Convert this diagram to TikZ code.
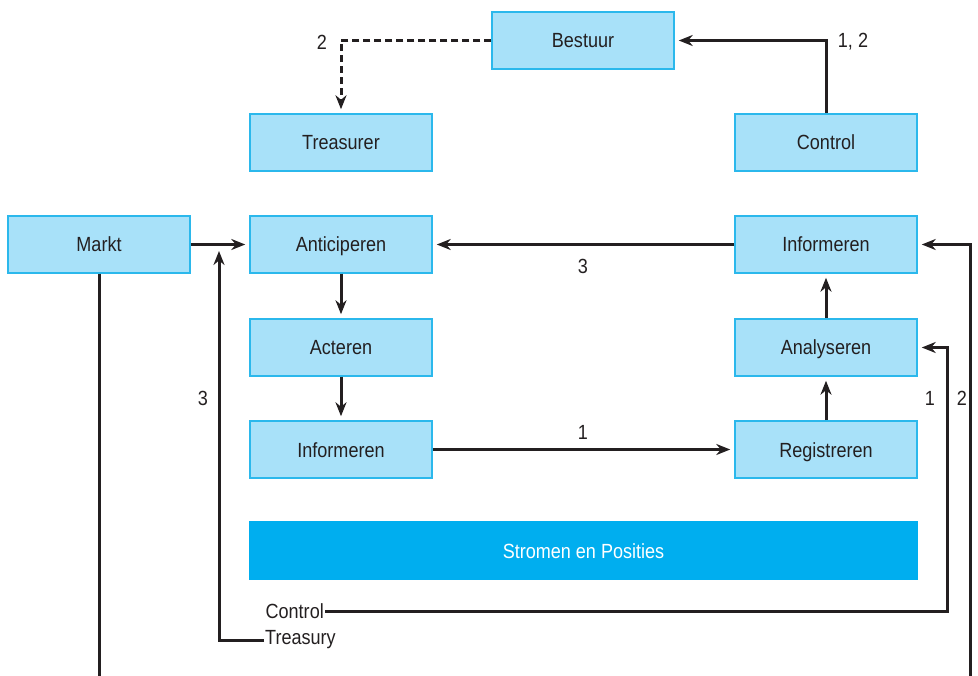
\documentclass[tikz,border=0pt]{standalone}
\usepackage{fontspec}
\setmainfont{Liberation Sans}[FakeStretch=0.88]
\usepackage{xcolor}
\usepackage{tikz}
\usetikzlibrary{positioning,arrows.meta}

\definecolor{ink}{HTML}{231F20}
\definecolor{boxfill}{HTML}{A8E1F9}
\definecolor{boxline}{HTML}{2BB8EC}
\definecolor{bandfill}{HTML}{00AEEF}

\tikzset{
  stap/.style={draw=boxline, fill=boxfill, line width=1.5pt, minimum width=182pt, minimum height=57pt, inner sep=0pt, text height=17pt, text depth=2pt, text=ink, font=\fontsize{20.5}{24}\selectfont},
  lbl/.style={text=ink, inner sep=1pt, font=\fontsize{20.5}{24}\selectfont},
  flow/.style={ink, line width=3pt, -{Stealth[length=14pt,width=11pt]}, shorten >=4pt},
  plain/.style={ink, line width=3pt}
}

\begin{document}
\begin{tikzpicture}[x=1pt,y=-1pt]
\useasboundingbox (0,0) rectangle (978,676);
% boxes
\node[stap] (bestuur) at (583,40.5) {Bestuur};
\node[stap] (treasurer) at (341,142.5) {Treasurer};
\node[stap] (control) at (826,142.5) {Control};
\node[stap] (markt) at (99,244.5) {Markt};
\node[stap] (anticiperen) at (341,244.5) {Anticiperen};
\node[stap] (informerenR) at (826,244.5) {Informeren};
\node[stap] (acteren) at (341,347.5) {Acteren};
\node[stap] (analyseren) at (826,347.5) {Analyseren};
\node[stap] (informerenL) at (341,449.5) {Informeren};
\node[stap] (registreren) at (826,449.5) {Registreren};
\node[stap, fill=bandfill, draw=bandfill, text=white, minimum width=667pt] (stromen) at (583.5,550.5) {Stromen en Posities};
% loose ends
\node[lbl, anchor=east] (ctrl) at (325,611) {Control};
\node[lbl, anchor=west] (treasury) at (264,640) {Treasury};
\coordinate (ctrlturn) at (947,347.5);
\coordinate (trjoin) at (219,251);
\coordinate (marktend) at (99,680);
\coordinate (rightend) at (970,680);
% connectors
\draw[flow, dashed, dash pattern=on 7pt off 4pt] (bestuur.west) -| (treasurer.north);
\draw[flow] (control.north) |- (bestuur.east);
\draw[flow] (markt.east) -- (anticiperen.west);
\draw[flow] (informerenR.west) -- (anticiperen.east);
\draw[flow] (anticiperen.south) -- (acteren.north);
\draw[flow] (acteren.south) -- (informerenL.north);
\draw[flow] (informerenL.east) -- (registreren.west);
\draw[flow] (registreren.north) -- (analyseren.south);
\draw[flow] (analyseren.north) -- (informerenR.south);
\draw[flow] (ctrl.east) -| (ctrlturn) -- (analyseren.east);
\draw[flow, shorten >=0pt] (treasury.west) -| (trjoin);
\draw[plain] (markt.south) -- (marktend);
\draw[flow] (rightend) |- (informerenR.east);
% numbers
\node[lbl] (n2top) at (322,42) {2};
\node[lbl] (n12top) at (853,42) {1, 2};
\node[lbl] (n3mid) at (583,266) {3};
\node[lbl] (n1mid) at (583,432) {1};
\node[lbl] (n3left) at (203,398) {3};
\node[lbl] (n1right) at (930,398) {1};
\node[lbl] (n2right) at (962,398) {2};
\end{tikzpicture}
\end{document}
